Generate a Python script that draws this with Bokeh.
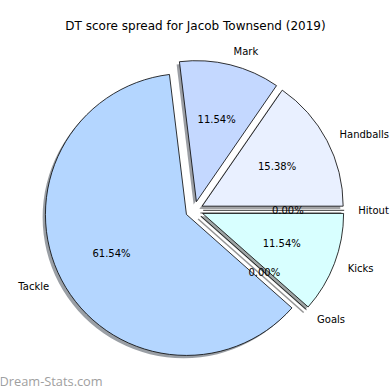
import numpy as np
from bokeh.plotting import figure
from bokeh.models import Range1d, Label, ColumnDataSource
from bokeh.core.properties import value
from bokeh.embed import file_html
from bokeh.resources import INLINE

# ---- data ----
categories = ["Hitout", "Handballs", "Mark", "Tackle", "Goals", "Kicks"]
scores = [0, 4, 3, 16, 0, 3]
colors = ["#eef2ff", "#e9f0ff", "#c4d8ff", "#b4d6ff", "#eeeeee", "#d8ffff"]
title_text = "DT score spread for Jacob Townsend (2019)"
watermark_text = "Dream-Stats.com"

# ---- layout constants ----
W = H = 390
PX = 141.0            # pixels per pie radius
CX, CY = 193.8, 209.8 # pie centre in screen pixels
EXPLODE = 0.063
SHADOW = 0.02

vals = np.array(scores, dtype=float)
frac = vals / vals.sum()
ends = np.cumsum(frac) * 2 * np.pi
starts = ends - frac * 2 * np.pi
mids = (starts + ends) / 2
ox = EXPLODE * np.cos(mids)
oy = EXPLODE * np.sin(mids)

def shade(hexc, k=0.3):
    h = hexc.lstrip("#")
    r, g, b = (int(h[i:i + 2], 16) for i in (0, 2, 4))
    return "#%02x%02x%02x" % (int(r * k), int(g * k), int(b * k))

p = figure(width=W, height=H, output_backend="svg", toolbar_location=None,
           x_axis_location=None, y_axis_location=None, min_border=0,
           x_range=Range1d(-CX / PX, (W - CX) / PX),
           y_range=Range1d(-(H - CY) / PX, CY / PX))
p.grid.visible = False
p.outline_line_color = None
p.background_fill_color = "white"
p.border_fill_color = "white"

nz = frac > 0
z = ~nz

# shadows
sh = ColumnDataSource(dict(x=(ox - SHADOW)[nz], y=(oy - SHADOW)[nz],
                           s=starts[nz], e=ends[nz],
                           c=[shade(c) for c, k in zip(colors, nz) if k]))
p.wedge(x="x", y="y", radius=1.0, start_angle="s", end_angle="e",
        fill_color="c", fill_alpha=0.5, line_color=None, source=sh)
zs = ColumnDataSource(dict(x0=(ox - SHADOW)[z], y0=(oy - SHADOW)[z],
                           x1=(ox - SHADOW + np.cos(mids))[z],
                           y1=(oy - SHADOW + np.sin(mids))[z]))
p.segment(x0="x0", y0="y0", x1="x1", y1="y1", line_color="#777777",
          line_alpha=0.8, line_width=1.5, source=zs)

# wedges
ws = ColumnDataSource(dict(x=ox[nz], y=oy[nz], s=starts[nz], e=ends[nz],
                           c=[c for c, k in zip(colors, nz) if k]))
p.wedge(x="x", y="y", radius=1.0, start_angle="s", end_angle="e",
        fill_color="c", line_color="black", line_width=0.8, source=ws)
zl = ColumnDataSource(dict(x0=ox[z], y0=oy[z],
                           x1=(ox + np.cos(mids))[z], y1=(oy + np.sin(mids))[z]))
p.segment(x0="x0", y0="y0", x1="x1", y1="y1", line_color="black",
          line_width=0.8, source=zl)

# percent labels
pct = ColumnDataSource(dict(x=ox + 0.6 * np.cos(mids), y=oy + 0.6 * np.sin(mids),
                            t=["%.2f%%" % (100 * f) for f in frac]))
p.text(x="x", y="y", text="t", source=pct, text_font=value("DejaVu Sans"),
       text_font_size="10px", text_align="center", text_baseline="middle",
       text_color="black")

# category labels
lab = ColumnDataSource(dict(x=ox + 1.1 * np.cos(mids), y=oy + 1.1 * np.sin(mids),
                            t=categories,
                            a=["left" if np.cos(m) > 0 else "right" for m in mids]))
p.text(x="x", y="y", text="t", source=lab, text_font=value("DejaVu Sans"),
       text_font_size="10px", text_align="a", text_baseline="middle",
       text_color="black")

p.add_layout(Label(x=195, y=H - 25, x_units="screen", y_units="screen",
                   text=title_text, text_font="DejaVu Sans", text_font_size="12px",
                   text_align="center", text_baseline="middle", text_color="black"))
p.add_layout(Label(x=-1, y=H - 380, x_units="screen", y_units="screen",
                   text=watermark_text, text_font="Open Sans", text_font_size="12.8px",
                   text_align="left", text_baseline="middle", text_color="#a0a0a0",
                   text_font_style="normal"))

open("out.html", "w").write(file_html(p, INLINE))
